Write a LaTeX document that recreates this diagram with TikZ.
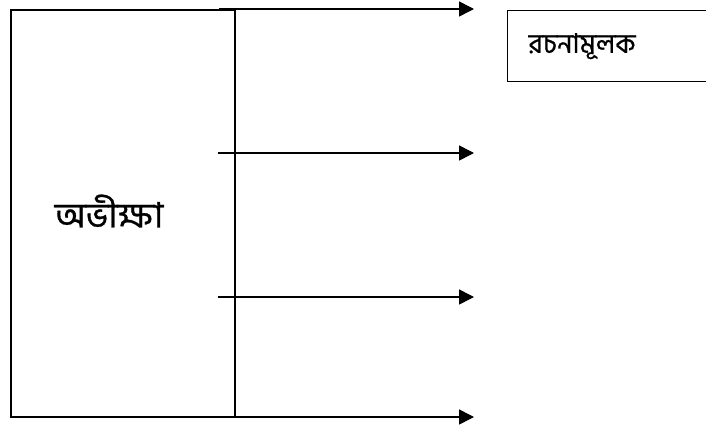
\documentclass[tikz,border=0pt]{standalone}
\usepackage{fontspec}
\newfontfamily\bnfont[Script=Bengali,FakeBold=0.8]{Hind Siliguri}
\usetikzlibrary{arrows.meta}
\begin{document}
\begin{tikzpicture}[x=1pt,y=-1pt,
  line width=1.6pt,
  branch/.style={-{Triangle[length=15pt,width=15pt]}},
  labelbox/.style={draw,line width=1.3pt,minimum width=200pt,minimum height=71pt,anchor=north west,text width=200pt,align=left,inner sep=0pt,font=\bnfont\fontsize{27}{30}\selectfont},
  ]
  \useasboundingbox (0,0) rectangle (706,425);
  % left block with its label
  \draw (11,10) rectangle (235,417);
  \node[font=\bnfont\fontsize{35}{40}\selectfont] (main) at (109,211) {অভীক্ষা};
  % spine on the right side of the block
  \coordinate (s1) at (219,9);
  \coordinate (s2) at (218,153);
  \coordinate (s3) at (218,297);
  \coordinate (s4) at (219,417);
  \coordinate (e1) at (474,9);
  \coordinate (e2) at (474,153);
  \coordinate (e3) at (474,297);
  \coordinate (e4) at (474,417);
  \draw (235,9) -- (235,417);
  \draw[branch] (s1) -- (e1);
  \draw[branch] (s2) -- (e2);
  \draw[branch] (s3) -- (e3);
  \draw[branch] (s4) -- (e4);
  % first target
  \node[labelbox] (t1) at (507,10) {\hspace*{21pt}রচনামূলক};
\end{tikzpicture}
\end{document}
